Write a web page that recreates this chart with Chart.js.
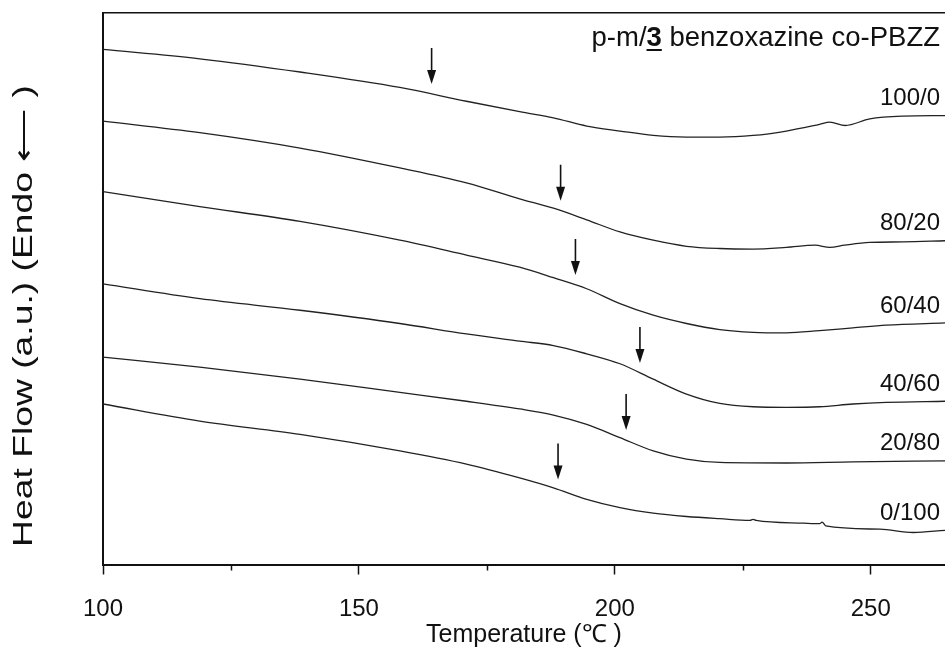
<!DOCTYPE html>
<html>
<head>
<meta charset="utf-8">
<script src="https://cdn.jsdelivr.net/npm/chart.js@4/dist/chart.umd.min.js"></script>
<style>
  html, body { margin: 0; padding: 0; background: #fff; overflow: hidden; }
  #wrap { width: 945px; height: 648px; }
</style>
</head>
<body>
<div id="wrap"><canvas id="chart"></canvas></div>
<script>
const series = ["100/0", "80/20", "60/40", "40/60", "20/80", "0/100"]; // p-m / 3 ratio

// temperatures (°C) and heat flow (a.u.)
const temps100_0 = [100, 118.9, 138.5, 158, 171, 181.4, 188, 194.5, 201, 207.5, 214, 220.5, 227, 233.5, 240, 242, 245, 249.8, 256.3, 264.5];
const flow100_0 = [93.4, 91.7, 89.3, 86.5, 84.0, 82.1, 81.0, 79.5, 78.6, 77.8, 77.5, 77.5, 77.8, 78.6, 79.8, 80.2, 79.6, 80.8, 81.3, 81.4];

const temps80_20 = [100, 118.9, 138.5, 158, 171, 181.4, 188, 194.5, 201, 207.5, 214, 220.5, 227, 233.5, 239.1, 242, 244.9, 249.8, 256.3, 264.5];
const flow80_20 = [80.4, 78.3, 75.5, 71.9, 69.2, 66.3, 64.6, 62.5, 60.3, 58.8, 57.7, 57.3, 57.2, 57.5, 57.9, 57.5, 57.9, 58.4, 58.5, 58.7];

const temps60_40 = [100, 118.9, 138.5, 158, 171, 181.4, 188, 194.5, 201, 207.5, 214, 220.5, 227, 233.5, 240, 246.5, 253, 264.5];
const flow60_40 = [67.6, 64.9, 62.2, 58.8, 56.1, 53.9, 52.0, 50.0, 47.3, 45.2, 43.7, 42.6, 42.1, 42.0, 42.4, 42.9, 43.4, 43.8];

const temps40_60 = [100, 118.9, 138.5, 158, 171, 181.4, 188, 194.5, 201, 207.5, 214, 220.5, 227, 233.5, 240, 246.5, 253, 264.5];
const flow40_60 = [50.9, 48.2, 46.1, 43.7, 41.8, 40.5, 39.7, 38.2, 36.4, 33.6, 30.9, 29.2, 28.6, 28.5, 28.6, 29.1, 29.4, 29.6];

const temps20_80 = [100, 118.9, 138.5, 158, 171, 181.4, 188, 194.5, 201, 207.5, 214, 220.5, 233.5, 246.5, 264.5];
const flow20_80 = [37.6, 35.8, 33.6, 31.2, 29.6, 28.2, 27.1, 25.4, 23.0, 20.6, 19.1, 18.5, 18.4, 18.6, 18.8];

const temps0_100 = [100, 118.9, 138.5, 158, 171, 181.4, 188, 194.5, 201, 207.5, 214, 220.5, 226.4, 227, 227.6, 236.8, 240, 240.5, 241.2, 251.8, 258.3, 264.5];
const flow0_100 = [29.1, 26.0, 23.6, 20.6, 18.2, 15.7, 13.9, 11.8, 10.3, 9.3, 8.7, 8.3, 8.0, 8.2, 8.0, 7.5, 7.4, 7.7, 7.0, 6.4, 5.8, 6.2];

// Tg marked by the arrows
const arrowTemps = [164.2, 189.4, 192.3, 204.9, 202.2, 188.9];

const xTicks = [100, 150, 200, 250];
const xMinorTicks = [125, 175, 225];

const allTemps = [temps100_0, temps80_20, temps60_40, temps40_60, temps20_80, temps0_100];
const allFlows = [flow100_0, flow80_20, flow60_40, flow40_60, flow20_80, flow0_100];

const FONT = "'Liberation Sans', Arial, sans-serif";

function flowAt(i, t) {
  const ts = allTemps[i], fs = allFlows[i];
  for (let k = 1; k < ts.length; k++) {
    if (t <= ts[k]) {
      const f = (t - ts[k - 1]) / (ts[k] - ts[k - 1]);
      return fs[k - 1] + f * (fs[k] - fs[k - 1]);
    }
  }
  return fs[fs.length - 1];
}

// arrows, ratio labels, minor ticks, y title and the heading
const extras = {
  id: "extras",
  afterDatasetsDraw(chart) {
    const { ctx, chartArea, scales: { x, y } } = chart;
    ctx.save();
    ctx.strokeStyle = "#111";
    ctx.fillStyle = "#111";

    // arrows
    arrowTemps.forEach((t, i) => {
      const px = x.getPixelForValue(t);
      const tip = y.getPixelForValue(flowAt(i, t)) - 10;
      ctx.lineWidth = 1.6;
      ctx.beginPath();
      ctx.moveTo(px, tip - 36);
      ctx.lineTo(px, tip - 10);
      ctx.stroke();
      ctx.beginPath();
      ctx.moveTo(px, tip);
      ctx.lineTo(px - 4.5, tip - 14);
      ctx.lineTo(px + 4.5, tip - 14);
      ctx.closePath();
      ctx.fill();
    });

    // ratio labels at the right end of each trace
    ctx.font = "24px " + FONT;
    ctx.textAlign = "right";
    ctx.textBaseline = "middle";
    series.forEach((name, i) => {
      const fs = allFlows[i];
      const py = y.getPixelForValue(fs[fs.length - 1]) - 17;
      ctx.fillText(name, chartArea.right - 5, py);
    });

    // minor ticks on the temperature axis
    ctx.lineWidth = 1.5;
    xMinorTicks.forEach(v => {
      const px = Math.round(x.getPixelForValue(v)) + 0.5;
      ctx.beginPath();
      ctx.moveTo(px, chartArea.bottom);
      ctx.lineTo(px, chartArea.bottom + 6);
      ctx.stroke();
    });

    // y axis title, stretched along its length like the original
    ctx.save();
    ctx.translate(25, 316);
    ctx.rotate(-Math.PI / 2);
    ctx.scale(1.38, 1);
    ctx.font = "27px " + FONT;
    ctx.textAlign = "center";
    ctx.textBaseline = "middle";
    ctx.fillText("Heat Flow (a.u.) (Endo \u27F5 )", 0, 0);
    ctx.restore();

    // heading: p-m/3 benzoxazine co-PBZZ (3 bold, underlined)
    const parts = [
      { text: "p-m/", bold: false },
      { text: "3", bold: true },
      { text: " benzoxazine co-PBZZ", bold: false }
    ];
    const base = chartArea.top + 33;
    ctx.textAlign = "left";
    ctx.textBaseline = "alphabetic";
    const widths = parts.map(p => {
      ctx.font = (p.bold ? "bold " : "") + "27.5px " + FONT;
      return ctx.measureText(p.text).width;
    });
    let hx = chartArea.right - 5 - widths.reduce((a, b) => a + b, 0);
    parts.forEach((p, k) => {
      ctx.font = (p.bold ? "bold " : "") + "27.5px " + FONT;
      ctx.fillText(p.text, hx, base);
      if (p.bold) ctx.fillRect(hx, base + 3, widths[k], 2);
      hx += widths[k];
    });
    ctx.restore();
  }
};

new Chart(document.getElementById("chart"), {
  type: "line",
  data: {
    datasets: series.map((name, i) => ({
      label: name,
      data: allTemps[i].map((t, k) => ({ x: t, y: allFlows[i][k] })),
      borderColor: "#222",
      borderWidth: 1.3,
      pointRadius: 0,
      fill: false,
      cubicInterpolationMode: "monotone"
    }))
  },
  options: {
    responsive: true,
    maintainAspectRatio: false,
    animation: false,
    layout: { padding: { left: 103, right: 0, top: 13, bottom: 0 } },
    plugins: {
      legend: { display: false },
      tooltip: { enabled: false }
    },
    scales: {
      x: {
        type: "linear",
        position: "bottom",
        min: 100,
        max: 264.5,
        afterBuildTicks: axis => { axis.ticks = xTicks.map(v => ({ value: v })); },
        ticks: {
          font: { family: FONT, size: 24, lineHeight: 1 },
          color: "#111",
          padding: 23,
          maxRotation: 0
        },
        grid: { drawOnChartArea: false, tickLength: 10, tickColor: "#111", tickWidth: 1.5 },
        border: { color: "#111", width: 2 },
        title: {
          display: true,
          text: "Temperature (\u2103 )",
          font: { family: FONT, size: 25, lineHeight: 1 },
          color: "#111",
          padding: { top: -21.5, bottom: 0 }
        }
      },
      xTop: {
        type: "linear",
        position: "top",
        min: 100,
        max: 264.5,
        ticks: { display: false },
        grid: { drawOnChartArea: false, drawTicks: false },
        border: { color: "#111", width: 1.5 }
      },
      y: {
        type: "linear",
        min: 0,
        max: 100,
        ticks: { display: false },
        grid: { drawOnChartArea: false, drawTicks: false },
        border: { color: "#111", width: 2 }
      }
    }
  },
  plugins: [extras]
});
</script>
</body>
</html>
